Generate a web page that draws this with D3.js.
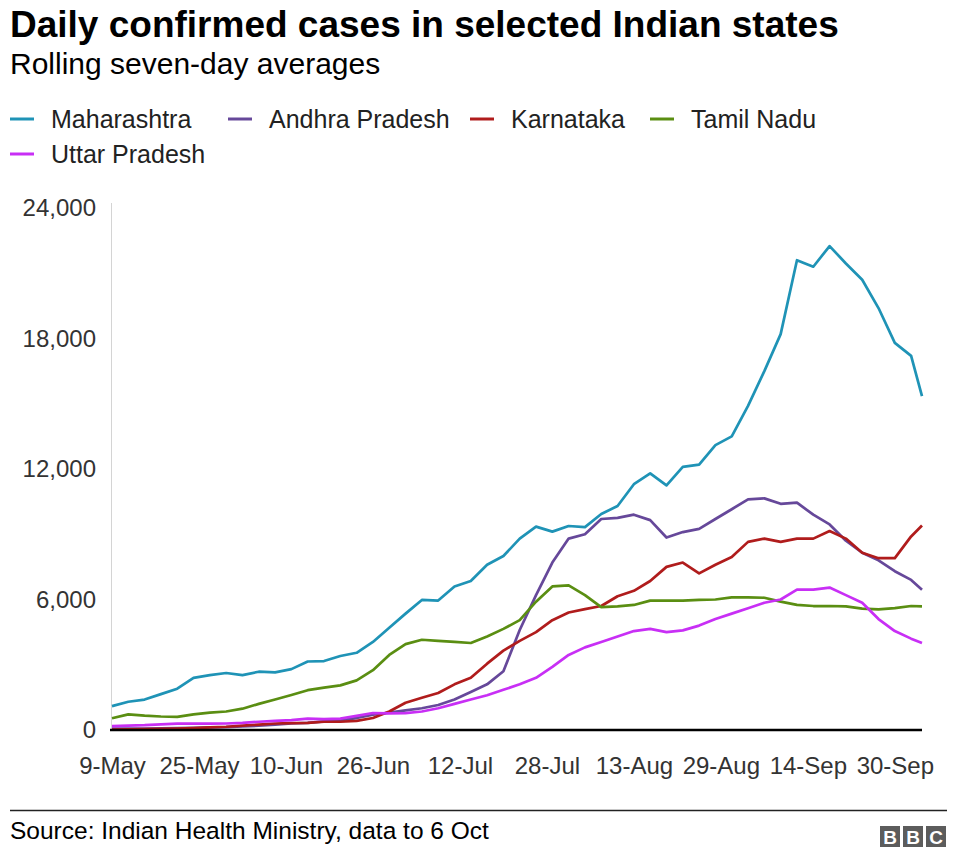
<!DOCTYPE html>
<html>
<head>
<meta charset="utf-8">
<script src="https://cdn.jsdelivr.net/npm/d3@7/dist/d3.min.js"></script>
<style>
  html, body { margin: 0; padding: 0; background: #fff; }
  svg { display: block; font-family: "Liberation Sans", Arial, Helvetica, sans-serif; }
</style>
</head>
<body>
<svg id="chart" width="976" height="850"></svg>
<script>
// ---- Data (rolling seven-day averages) ----
const dates = ["2020-05-09","2020-05-12","2020-05-15","2020-05-18","2020-05-21","2020-05-24","2020-05-27","2020-05-30",
  "2020-06-02","2020-06-05","2020-06-08","2020-06-11","2020-06-14","2020-06-17","2020-06-20","2020-06-23","2020-06-26","2020-06-29",
  "2020-07-02","2020-07-05","2020-07-08","2020-07-11","2020-07-14","2020-07-17","2020-07-20","2020-07-23","2020-07-26","2020-07-29",
  "2020-08-01","2020-08-04","2020-08-07","2020-08-10","2020-08-13","2020-08-16","2020-08-19","2020-08-22","2020-08-25","2020-08-28","2020-08-31",
  "2020-09-03","2020-09-06","2020-09-09","2020-09-12","2020-09-15","2020-09-18","2020-09-21","2020-09-24","2020-09-27","2020-09-30",
  "2020-10-03","2020-10-05"];

const maharashtra = [1100,1300,1400,1650,1900,2400,2520,2620,2520,2680,2650,2800,3150,3170,3400,3550,4050,4700,
  5350,5980,5950,6600,6850,7600,8000,8800,9350,9120,9380,9330,9930,10300,11300,11800,11250,12100,12200,13100,13500,
  14900,16500,18200,21600,21300,22250,21450,20700,19400,17800,17200,15350];
const andhraPradesh = [60,60,70,80,90,100,120,130,160,200,250,300,330,400,450,550,700,800,
  900,1000,1150,1400,1750,2100,2700,4600,6200,7700,8800,9000,9700,9750,9900,9650,8850,9100,9250,9700,10150,
  10600,10650,10400,10450,9900,9450,8700,8150,7800,7300,6900,6450];
const karnataka = [20,30,40,50,70,90,120,150,200,250,300,320,330,380,380,420,550,850,
  1250,1480,1700,2100,2400,3050,3650,4100,4500,5050,5400,5560,5700,6150,6400,6850,7500,7700,7200,7600,7950,
  8650,8800,8650,8800,8800,9150,8800,8150,7900,7900,8900,9400];
const tamilNadu = [540,720,660,620,600,720,800,850,980,1200,1400,1610,1830,1950,2050,2280,2750,3450,
  3950,4150,4100,4050,4000,4300,4650,5050,5900,6600,6650,6200,5650,5680,5750,5950,5950,5950,5980,6000,6100,
  6100,6080,5900,5750,5700,5700,5680,5580,5550,5600,5700,5680];
const uttarPradesh = [180,200,220,260,290,300,290,300,330,380,420,450,520,500,520,650,780,760,
  780,850,1000,1200,1400,1600,1850,2100,2400,2900,3450,3800,4050,4300,4550,4650,4500,4580,4800,5100,5350,
  5600,5850,6000,6450,6450,6550,6200,5850,5100,4550,4200,4000];

const seriesNames = ["Maharashtra","Andhra Pradesh","Karnataka","Tamil Nadu","Uttar Pradesh"];
const seriesColors = ["#1f93b6","#66489a","#b01c1c","#5a8e12","#c82ff5"];
const seriesValues = [maharashtra, andhraPradesh, karnataka, tamilNadu, uttarPradesh];

const yTicks = [0, 6000, 12000, 18000, 24000];
const xTickLabels = ["9-May","25-May","10-Jun","26-Jun","12-Jul","28-Jul","13-Aug","29-Aug","14-Sep","30-Sep"];
const xTickDates = ["2020-05-09","2020-05-25","2020-06-10","2020-06-26","2020-07-12","2020-07-28","2020-08-13","2020-08-29","2020-09-14","2020-09-30"];

const titleText = "Daily confirmed cases in selected Indian states";
const subtitleText = "Rolling seven-day averages";
const sourceText = "Source: Indian Health Ministry, data to 6 Oct";

// ---- Drawing ----
const parse = d3.utcParse("%Y-%m-%d");
const svg = d3.select("#chart");
const textColor = "#222";

const x = d3.scaleUtc()
  .domain([parse(dates[0]), parse(dates[dates.length - 1])])
  .range([112, 922]);
const y = d3.scaleLinear().domain([0, 24000]).range([730, 208]);

// Title & subtitle
svg.append("text").attr("x", 10).attr("y", 37)
  .attr("font-size", 37).attr("font-weight", "bold").attr("fill", "#000")
  .text(titleText);
svg.append("text").attr("x", 10).attr("y", 74)
  .attr("font-size", 30).attr("fill", "#000")
  .text(subtitleText);

// Legend
const legendPos = [
  {x: 10, y: 119}, {x: 228, y: 119}, {x: 470, y: 119}, {x: 650, y: 119},
  {x: 10, y: 154}
];
seriesNames.forEach((name, i) => {
  const g = svg.append("g").attr("transform", `translate(${legendPos[i].x},${legendPos[i].y})`);
  g.append("line").attr("x1", 0).attr("x2", 24).attr("y1", 0).attr("y2", 0)
    .attr("stroke", seriesColors[i]).attr("stroke-width", 3);
  g.append("text").attr("x", 41).attr("y", 0).attr("dy", "0.35em")
    .attr("font-size", 25).attr("fill", textColor).text(name);
});

// Y axis
const yAxis = d3.axisLeft(y).tickValues(yTicks).tickSize(0).tickPadding(15)
  .tickFormat(d3.format(","));
const yg = svg.append("g").attr("transform", "translate(111,0)").call(yAxis);
yg.select(".domain").attr("stroke", "#d4d4d4").attr("stroke-width", 1)
  .attr("d", `M0.5,${y(24000) - 5}V${y(0)}`);
yg.selectAll("text").attr("font-size", 24).attr("fill", "#333")
  .attr("font-family", "Liberation Sans, Arial, sans-serif");

// X axis
const xAxis = d3.axisBottom(x).tickValues(xTickDates.map(parse)).tickSize(0).tickPadding(27)
  .tickFormat((d, i) => xTickLabels[i]);
const xg = svg.append("g").attr("transform", `translate(0,${y(0)})`).call(xAxis);
xg.select(".domain").remove();
xg.selectAll("text").attr("font-size", 24).attr("fill", "#333")
  .attr("font-family", "Liberation Sans, Arial, sans-serif");

// Lines
const line = d3.line()
  .x((d, i) => x(parse(dates[i])))
  .y(d => y(d));
seriesValues.forEach((vals, i) => {
  svg.append("path").datum(vals)
    .attr("fill", "none").attr("stroke", seriesColors[i])
    .attr("stroke-width", 2.7).attr("stroke-linejoin", "round")
    .attr("d", line);
});

// Zero baseline
svg.append("line").attr("x1", 110).attr("x2", 922)
  .attr("y1", y(0)).attr("y2", y(0))
  .attr("stroke", "#000").attr("stroke-width", 2.5);

// Footer
svg.append("line").attr("x1", 10).attr("x2", 947).attr("y1", 810.5).attr("y2", 810.5)
  .attr("stroke", "#222").attr("stroke-width", 1.5);
svg.append("text").attr("x", 10).attr("y", 839)
  .attr("font-size", 24.5).attr("fill", "#000").text(sourceText);

// BBC logo
const logo = svg.append("g").attr("transform", "translate(880,826)");
["B","B","C"].forEach((ch, i) => {
  logo.append("rect").attr("x", i * 23).attr("y", 0).attr("width", 20).attr("height", 21).attr("fill", "#5c5c5c");
  logo.append("text").attr("x", i * 23 + 10).attr("y", 18).attr("text-anchor", "middle")
    .attr("font-size", 19).attr("font-weight", "bold").attr("fill", "#fff").text(ch);
});
</script>
</body>
</html>
